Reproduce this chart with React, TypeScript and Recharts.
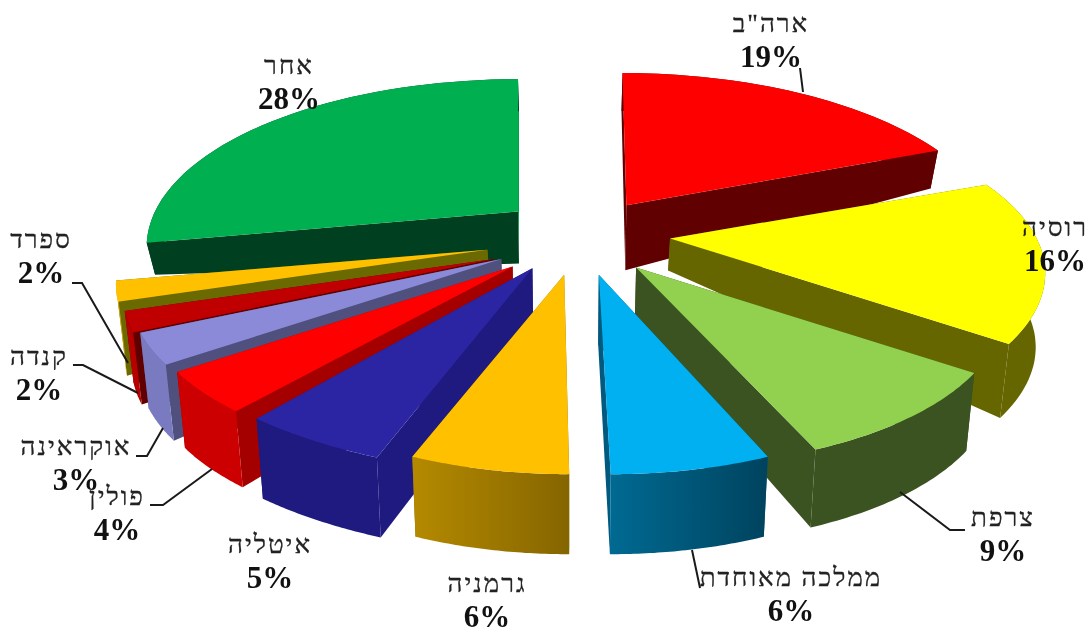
import { PieChart, Pie } from "recharts";

const categories = ['ארה"ב', "רוסיה", "צרפת", "ממלכה מאוחדת", "גרמניה", "איטליה", "פולין", "אוקראינה", "קנדה", "ספרד", "אחר"];
const shares = [19, 16, 9, 6, 6, 5, 4, 3, 2, 2, 28];

const rows = categories.map((name, i) => ({ name, value: shares[i] }));
const rightRows = rows;
const leftRows = [...rows].reverse();
const rightSide = categories.slice(0, 4);

type Look = {
  top: string;
  face: string;
  faceEnd?: string;
  rim: string;
  d0: number; // depth at the apex
  d1: number; // depth at the rim
  dx?: number;
  dy?: number;
  sx?: number;
  sy?: number;
  kx?: number; // the original picture is a bit skewed per slice
};

const looks: Record<string, Look> = {
  'ארה"ב': { top: "#ff0000", face: "#600000", rim: "#600000", d0: 65, d1: 38, dx: 3, dy: -3, kx: 0.03, sy: 1.02 },
  "רוסיה": { top: "#ffff00", face: "#666600", rim: "#666600", d0: 32, d1: 74, dx: 10, dy: -2, sx: 1.01 },
  "צרפת": { top: "#92d050", face: "#3a5320", rim: "#3a5320", d0: 60, d1: 78, dx: 5, dy: 3, sx: 0.98, kx: 0.09 },
  "ממלכה מאוחדת": { top: "#00b0f0", face: "#00597f", rim: "url(#ukRim)", d0: 70, d1: 80, dx: 3, dy: 3, sx: 0.95, kx: 0.06 },
  "גרמניה": { top: "#ffc000", face: "#8a6a00", rim: "url(#deRim)", d0: 70, d1: 80, dy: 3, sx: 0.94, kx: 0.025 },
  "איטליה": { top: "#2b25a3", face: "#1f1a80", rim: "#1f1a80", d0: 70, d1: 80, dx: -5, dy: 1, sx: 1.055, sy: 1.04, kx: 0.11 },
  "פולין": { top: "#ff0000", face: "#a50000", rim: "#cc0000", d0: 60, d1: 76, dx: -7, dy: 6 },
  "אוקראינה": { top: "#8a8ad8", face: "#50507f", rim: "#7a7ac0", d0: 40, d1: 76, dx: -8, dy: 5 },
  "קנדה": { top: "#c00000", face: "#600000", rim: "#b80000", d0: 30, d1: 72, dx: -10, dy: 10 },
  "ספרד": { top: "#ffc000", face: "#6a6a00", rim: "#e0a800", d0: 20, d1: 74, dx: -14, dy: 5 },
  "אחר": { top: "#00b050", face: "#004020", faceEnd: "#00a24a", rim: "#004020", d0: 52, d1: 32, dx: -2, dy: -3, sy: 1.02 },
};

// label centres and leader lines
const labelSpots: Record<string, { x: number; y: number; leader?: number[][] }> = {
  'ארה"ב': { x: 771, y: 24, leader: [[800, 68], [803, 92]] },
  "רוסיה": { x: 1055, y: 228 },
  "צרפת": { x: 1003, y: 518, leader: [[900, 492], [950, 530], [965, 530]] },
  "ממלכה מאוחדת": { x: 791, y: 578, leader: [[692, 550], [700, 588]] },
  "גרמניה": { x: 487, y: 584 },
  "איטליה": { x: 270, y: 545 },
  "פולין": { x: 117, y: 497, leader: [[212, 469], [163, 505], [150, 505]] },
  "אוקראינה": { x: 76, y: 447, leader: [[163, 428], [147, 456], [136, 456]] },
  "קנדה": { x: 39, y: 357, leader: [[138, 393], [83, 365], [73, 365]] },
  "ספרד": { x: 41, y: 240, leader: [[128, 363], [82, 283], [72, 283]] },
  "אחר": { x: 289, y: 66 },
};

const SQUASH = 0.433; // height of the tilted disc against its width
const TILT = 0.212; // perspective: the front is bigger than the back
const EXPLODE = 0.221;
const SERIF = "'Liberation Serif', serif";

function project(angle: number, r: number, radius: number) {
  const a = (angle * Math.PI) / 180;
  const x = Math.sin(a) * r;
  const y = -Math.cos(a) * r;
  const k = 1 / (1 - TILT * y);
  return [radius * x * k, radius * SQUASH * y * k];
}

function toPath(points: number[][]) {
  return points.map((p, i) => `${i ? "L" : "M"}${p[0].toFixed(1)} ${p[1].toFixed(1)}`).join(" ") + " Z";
}

function Slice(props: any) {
  const { cx, cy, outerRadius, startAngle, endAngle, payload } = props;
  const name = payload?.name ?? props.name;
  const look = looks[name];
  const { dx = 0, dy = 0, sx = 1, sy = 1, kx = 0 } = look;
  let lo = Math.min(90 - startAngle, 90 - endAngle);
  let hi = Math.max(90 - startAngle, 90 - endAngle);
  if (lo < 0) {
    lo += 360;
    hi += 360;
  }
  const mid = (lo + hi) / 2;
  const off = project(mid, EXPLODE, outerRadius);
  const ax = cx + off[0] + dx;
  const ay = cy + off[1] + dy;
  const drop = (p: number[], d: number) => [p[0] - (p[0] - 570) * 0.02, p[1] + d];

  const rim: number[][] = [];
  for (let i = 0; i <= 40; i++) {
    const p = project(lo + ((hi - lo) * i) / 40, 1, outerRadius);
    rim.push([ax + p[0] * sx + p[1] * kx, ay + p[1] * sy]);
  }
  const apex = [ax, ay];
  const apexLow = drop(apex, look.d0);
  const rimLow = rim.map((p) => drop(p, look.d1));
  const first = rim[0];
  const last = rim[rim.length - 1];

  return (
    <g>
      <path d={toPath([apex, last, rimLow[rimLow.length - 1], apexLow])} fill={look.faceEnd ?? look.face} />
      <path d={toPath([apex, first, rimLow[0], apexLow])} fill={look.face} />
      <path d={toPath([...rim, ...[...rimLow].reverse()])} fill={look.rim} />
      <path d={toPath([apex, ...rim])} fill={look.top} />
    </g>
  );
}

const rightShape = (props: any) => (rightSide.includes(props.payload?.name ?? props.name) ? <Slice {...props} /> : <g />);
const leftShape = (props: any) => (rightSide.includes(props.payload?.name ?? props.name) ? <g /> : <Slice {...props} />);

function SliceLabel({ name, value }: { name: string; value: number }) {
  const spot = labelSpots[name];
  return (
    <g>
      {spot.leader && (
        <polyline points={spot.leader.map((p) => p.join(",")).join(" ")} fill="none" stroke="#1a1a1a" strokeWidth={2} />
      )}
      <text
        x={spot.x}
        y={spot.y + 8}
        textAnchor="middle"
        fontFamily={SERIF}
        fontSize={26}
        letterSpacing={2}
        fill="#222"
        stroke="#222"
        strokeWidth={0.3}
      >
        {name}
      </text>
      <text x={spot.x} y={spot.y + 43} textAnchor="middle" fontFamily={SERIF} fontSize={31} fontWeight="bold" fill="#111">
        {value}%
      </text>
    </g>
  );
}

const rightLabel = (p: any) => (rightSide.includes(p.name) ? <SliceLabel name={p.name} value={p.value} /> : <g />);
const leftLabel = (p: any) => (rightSide.includes(p.name) ? <g /> : <SliceLabel name={p.name} value={p.value} />);

export default function App() {
  return (
    <div style={{ position: "absolute", left: 0, top: 0, filter: "blur(0.6px)" }}>
      <PieChart width={1089} height={633} margin={{ top: 0, right: 0, bottom: 0, left: 0 }}>
        <defs>
          <linearGradient id="ukRim" x1="0" y1="0" x2="1" y2="0">
            <stop offset="0%" stopColor="#006a92" />
            <stop offset="100%" stopColor="#00435e" />
          </linearGradient>
          <linearGradient id="deRim" x1="0" y1="0" x2="1" y2="0">
            <stop offset="0%" stopColor="#b58a00" />
            <stop offset="100%" stopColor="#856500" />
          </linearGradient>
        </defs>
        <Pie
          data={leftRows}
          dataKey="value"
          nameKey="name"
          cx={580}
          cy={236}
          innerRadius={0}
          outerRadius={363}
          startAngle={90}
          endAngle={450}
          stroke="none"
          shape={leftShape}
          label={leftLabel}
          labelLine={false}
          isAnimationActive={false}
        />
        <Pie
          data={rightRows}
          dataKey="value"
          nameKey="name"
          cx={580}
          cy={236}
          innerRadius={0}
          outerRadius={363}
          startAngle={90}
          endAngle={-270}
          stroke="none"
          shape={rightShape}
          label={rightLabel}
          labelLine={false}
          isAnimationActive={false}
        />
      </PieChart>
    </div>
  );
}
